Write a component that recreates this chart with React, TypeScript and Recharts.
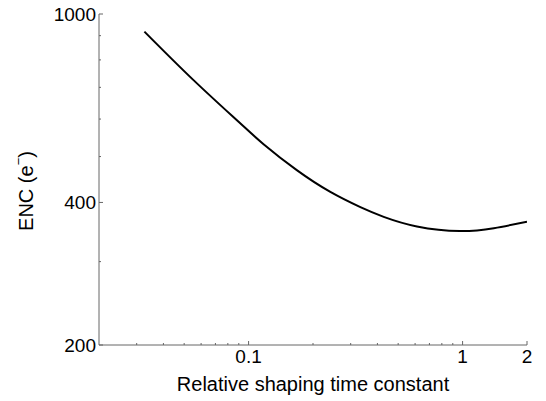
import React from 'react';
import { LineChart, Line, XAxis, YAxis, Label } from 'recharts';

const tauValues = [0.0326, 0.0553, 0.0898, 0.1175, 0.168, 0.241, 0.333, 0.428, 0.612, 0.97, 1.4, 2];
const encValues = [918, 725, 592, 531, 468, 421, 391, 373, 356, 348, 353, 364];

const xTicks = [0.03, 0.04, 0.05, 0.06, 0.07, 0.08, 0.09, 0.1, 0.2, 0.3, 0.4, 0.5, 0.6, 0.7, 0.8, 0.9, 1, 2];
const xMajor = [0.1, 1, 2];
const xLabels: Record<string, string> = { '0.1': '0.1', '1': '1', '2': '2' };

const yTicks = [200, 300, 400, 500, 600, 700, 800, 900, 1000];
const yMajor = [200, 400, 1000];

const data = tauValues.map((t, i) => ({ tau: t, enc: encValues[i] }));

const FONT = '"Liberation Sans", Arial, Helvetica, sans-serif';
const AXIS = '#666';

const BottomTick = (props: any) => {
  const { x, y, payload } = props;
  const major = xMajor.includes(payload.value);
  return (
    <g>
      <line x1={x} x2={x} y1={y} y2={y - (major ? 4 : 2)} stroke={AXIS} strokeWidth={1} />
      {major && (
        <text x={x} y={y + 18} textAnchor="middle" fontSize={19} fontFamily={FONT} fill="#000">
          {xLabels[String(payload.value)]}
        </text>
      )}
    </g>
  );
};

const TopTick = (props: any) => {
  const { x, y, payload } = props;
  const major = xMajor.includes(payload.value);
  return <line x1={x} x2={x} y1={y} y2={y + (major ? 4 : 2)} stroke={AXIS} strokeWidth={1} />;
};

const LeftTick = (props: any) => {
  const { x, y, payload } = props;
  const major = yMajor.includes(payload.value);
  return (
    <g>
      <line x1={x} x2={x + (major ? 4 : 2)} y1={y} y2={y} stroke={AXIS} strokeWidth={1} />
      {major && (
        <text x={x - 3} y={y + 7} textAnchor="end" fontSize={19} fontFamily={FONT} fill="#000">
          {payload.value}
        </text>
      )}
    </g>
  );
};

const RightTick = (props: any) => {
  const { x, y, payload } = props;
  const major = yMajor.includes(payload.value);
  return <line x1={x} x2={x - (major ? 4 : 2)} y1={y} y2={y} stroke={AXIS} strokeWidth={1} />;
};

const YTitle = () => (
  <text
    x={28}
    y={191}
    transform="rotate(-90 28 191)"
    textAnchor="middle"
    dominantBaseline="middle"
    fontSize={20}
    fontFamily={FONT}
    fill="#000"
  >
    ENC (e
    <tspan fontSize={13} dy={-8}>−</tspan>
    <tspan dy={8}>)</tspan>
  </text>
);

export default function App() {
  return (
    <div style={{ position: 'absolute', left: 0, top: 0, background: '#fff' }}>
      <LineChart width={546} height={401} data={data} margin={{ top: 14, right: 19, bottom: 0, left: 0 }}>
        <XAxis
          xAxisId={0}
          dataKey="tau"
          type="number"
          scale="log"
          domain={[0.02, 2]}
          allowDataOverflow
          ticks={xTicks}
          interval={0}
          height={56}
          tickSize={0}
          tickMargin={0}
          tickLine={false}
          axisLine={{ stroke: AXIS, strokeWidth: 1 }}
          tick={<BottomTick />}
        >
          <Label
            value="Relative shaping time constant"
            position="insideBottom"
            offset={10}
            style={{ fontSize: 20, fontFamily: FONT, fill: '#000' }}
          />
        </XAxis>
        <XAxis
          xAxisId="top"
          orientation="top"
          dataKey="tau"
          type="number"
          scale="log"
          domain={[0.02, 2]}
          allowDataOverflow
          ticks={xTicks}
          interval={0}
          height={0}
          tickSize={0}
          tickMargin={0}
          tickLine={false}
          axisLine={{ stroke: AXIS, strokeWidth: 1 }}
          tick={<TopTick />}
        />
        <YAxis
          yAxisId={0}
          type="number"
          scale="log"
          domain={[200, 1000]}
          allowDataOverflow
          ticks={yTicks}
          interval={0}
          width={99}
          tickSize={0}
          tickMargin={0}
          tickLine={false}
          axisLine={{ stroke: AXIS, strokeWidth: 1 }}
          tick={<LeftTick />}
        >
          <Label content={<YTitle />} />
        </YAxis>
        <YAxis
          yAxisId="right"
          orientation="right"
          type="number"
          scale="log"
          domain={[200, 1000]}
          allowDataOverflow
          ticks={yTicks}
          interval={0}
          width={0}
          tickSize={0}
          tickMargin={0}
          tickLine={false}
          axisLine={{ stroke: AXIS, strokeWidth: 1 }}
          tick={<RightTick />}
        />
        <Line
          xAxisId={0}
          yAxisId={0}
          dataKey="enc"
          type="natural"
          stroke="#000"
          strokeWidth={2}
          dot={false}
          isAnimationActive={false}
        />
      </LineChart>
    </div>
  );
}
